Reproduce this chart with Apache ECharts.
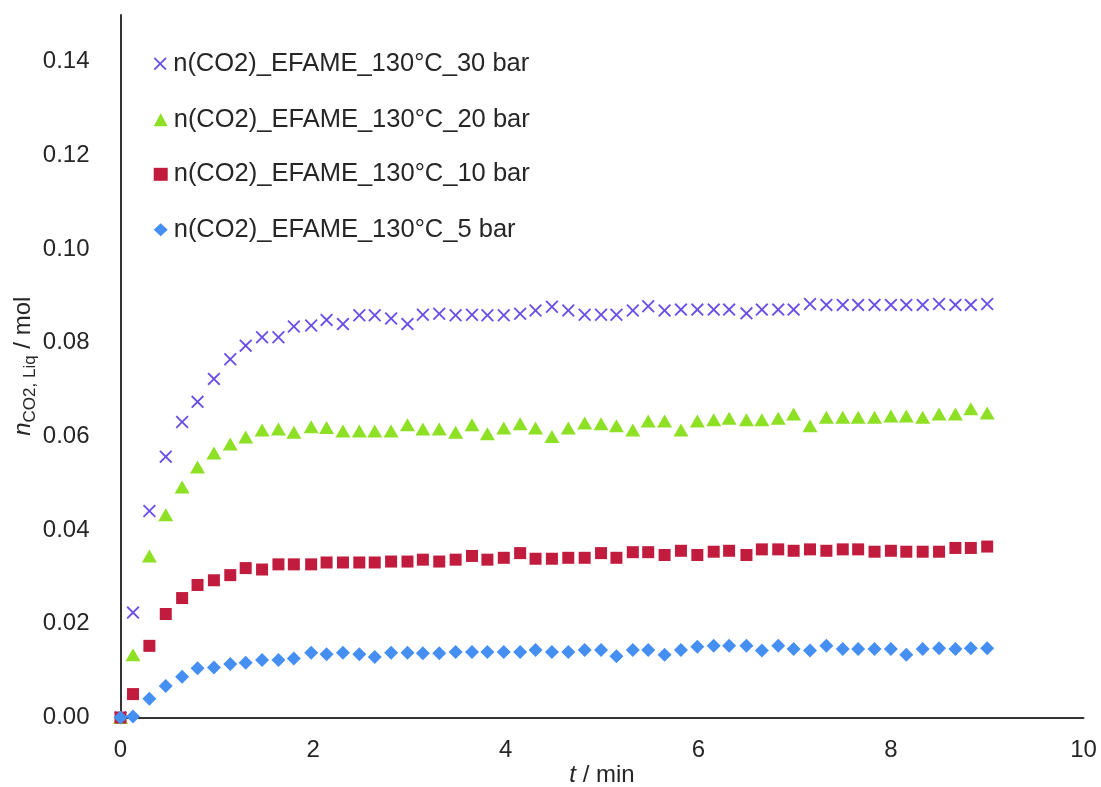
<!DOCTYPE html>
<html>
<head>
<meta charset="utf-8">
<script src="https://cdn.jsdelivr.net/npm/echarts@6/dist/echarts.min.js"></script>
<style>
html,body{margin:0;padding:0;background:#fff;}
#chart{width:1101px;height:787px;}
</style>
</head>
<body>
<div id="chart"></div>
<script>
// time in minutes
var times = [0,0.13,0.30,0.47,0.64,0.80,0.97,1.14,1.30,1.47,1.64,1.80,1.98,2.14,2.31,2.48,2.64,2.81,2.98,3.14,3.31,3.48,3.65,3.81,3.98,4.15,4.31,4.48,4.65,4.82,4.99,5.15,5.32,5.48,5.65,5.82,5.99,6.16,6.32,6.50,6.66,6.83,6.99,7.16,7.33,7.50,7.66,7.83,8.00,8.16,8.33,8.50,8.67,8.83,9.00];

var seriesNames = [
  'n(CO2)_EFAME_130°C_30 bar',
  'n(CO2)_EFAME_130°C_20 bar',
  'n(CO2)_EFAME_130°C_10 bar',
  'n(CO2)_EFAME_130°C_5 bar'
];

var bar30 = [0,0.0224,0.0441,0.0557,0.0631,0.0674,0.0723,0.0765,0.0794,0.0812,0.0812,
  0.0835,0.0837,0.0849,0.0840,0.0859,0.0859,0.0852,0.0840,0.0860,0.0862,
  0.0859,0.0860,0.0859,0.0859,0.0862,0.0869,0.0877,0.0869,0.0860,0.0860,
  0.0860,0.0869,0.0878,0.0869,0.0871,0.0871,0.0871,0.0871,0.0863,0.0871,
  0.0871,0.0871,0.0883,0.0881,0.0881,0.0881,0.0881,0.0881,0.0881,0.0881,
  0.0883,0.0881,0.0881,0.0883];

var bar20 = [0,0.0134,0.0345,0.0433,0.0492,0.0535,0.0565,0.0584,0.0599,0.0614,0.0616,
  0.0609,0.0621,0.0619,0.0612,0.0612,0.0612,0.0612,0.0625,0.0616,0.0616,
  0.0609,0.0625,0.0606,0.0618,0.0627,0.0618,0.0600,0.0618,0.0629,0.0627,
  0.0623,0.0614,0.0633,0.0633,0.0614,0.0633,0.0636,0.0639,0.0636,0.0636,
  0.0639,0.0648,0.0623,0.0641,0.0641,0.0641,0.0641,0.0644,0.0644,0.0641,
  0.0648,0.0648,0.0659,0.0650];

var bar10 = [0,0.0050,0.0153,0.0221,0.0255,0.0283,0.0293,0.0304,0.0319,0.0316,0.0327,
  0.0327,0.0327,0.0331,0.0331,0.0331,0.0331,0.0333,0.0333,0.0337,0.0333,
  0.0337,0.0345,0.0337,0.0341,0.0351,0.0339,0.0339,0.0341,0.0341,0.0351,
  0.0341,0.0353,0.0353,0.0347,0.0356,0.0347,0.0354,0.0356,0.0347,0.0359,
  0.0359,0.0356,0.0359,0.0356,0.0359,0.0359,0.0354,0.0356,0.0354,0.0354,
  0.0354,0.0362,0.0362,0.0365];

var bar5 = [0,0.0002,0.0040,0.0067,0.0087,0.0105,0.0107,0.0114,0.0117,0.0123,0.0123,
  0.0126,0.0138,0.0135,0.0138,0.0135,0.0129,0.0138,0.0138,0.0137,0.0137,
  0.0140,0.0140,0.0140,0.0140,0.0140,0.0144,0.0140,0.0140,0.0144,0.0144,
  0.0131,0.0144,0.0144,0.0134,0.0144,0.0151,0.0153,0.0153,0.0153,0.0143,
  0.0153,0.0146,0.0143,0.0153,0.0146,0.0146,0.0146,0.0146,0.0134,0.0146,
  0.0148,0.0146,0.0148,0.0148];

var colors = ['#6a4ee8', '#8ee024', '#c11b3d', '#468ff2'];

function pairs(arr){ return times.map(function(t,i){ return [t, arr[i]]; }); }

var crossPath = 'path://M2,0L10,8L18,0L20,2L12,10L20,18L18,20L10,12L2,20L0,18L8,10L0,2Z';
var FONT = '"Liberation Sans", Arial, sans-serif';
var TXT = '#262626';

var symbols = [crossPath, 'triangle', 'rect', 'diamond'];
var sizes = [13, [15,13], 12, 14];
var dataArrs = [bar30, bar20, bar10, bar5];
var legendTops = [61.7, 117.7, 172.3, 227.7];

var chart = echarts.init(document.getElementById('chart'), null, {renderer:'canvas'});

var legends = seriesNames.map(function(n, i){
  return {
    data: [n],
    left: 153.7,
    top: legendTops[i] - 11,
    padding: 0,
    orient: 'vertical',
    itemWidth: 14,
    itemHeight: 13,
    selectedMode: false,
    textStyle: {fontFamily: FONT, fontSize: 25.5, color: TXT, padding: [0,0,0,1]}
  };
});

var option = {
  animation: false,
  backgroundColor: '#ffffff',
  grid: {left: 120.5, right: 17.5, top: 15, bottom: 69.5, containLabel: false, outerBoundsMode: 'none'},
  legend: legends,
  xAxis: {
    type: 'value', min: 0, max: 10, interval: 2,
    axisLine: {show: true, onZero: false, lineStyle: {color: '#333', width: 2}},
    axisTick: {show: false},
    splitLine: {show: false},
    axisLabel: {fontFamily: FONT, fontSize: 24, color: TXT, margin: 21},
    name: '{i|t} / min',
    nameLocation: 'middle',
    nameGap: 46,
    nameMoveOverlap: false,
    nameTextStyle: {fontFamily: FONT, fontSize: 24, color: TXT,
      rich: {i: {fontFamily: FONT, fontSize: 24, fontStyle: 'italic', color: TXT}}}
  },
  yAxis: {
    type: 'value', min: 0, max: 0.15, interval: 0.02,
    axisLine: {show: true, onZero: false, lineStyle: {color: '#333', width: 2}},
    axisTick: {show: false},
    splitLine: {show: false},
    axisLabel: {fontFamily: FONT, fontSize: 24, color: TXT, margin: 31, showMaxLabel: false,
      formatter: function(v){ return v.toFixed(2); }},
    name: '{i|n}{s|CO2, Liq}{r| / mol}',
    nameLocation: 'middle',
    nameRotate: 90,
    nameGap: 82,
    nameMoveOverlap: false,
    nameTextStyle: {fontFamily: FONT, fontSize: 24, color: TXT,
      rich: {
        i: {fontFamily: FONT, fontSize: 24, fontStyle: 'italic', color: TXT, lineHeight: 30, verticalAlign: 'middle'},
        s: {fontFamily: FONT, fontSize: 17, color: TXT, lineHeight: 30, verticalAlign: 'bottom', padding: [10,0,0,0]},
        r: {fontFamily: FONT, fontSize: 24, color: TXT, lineHeight: 30, verticalAlign: 'middle'}
      }}
  },
  series: seriesNames.map(function(n, i){
    return {
      name: n,
      type: 'scatter',
      symbol: symbols[i],
      symbolSize: sizes[i],
      data: pairs(dataArrs[i]),
      itemStyle: {color: colors[i], opacity: 1},
      emphasis: {disabled: true}
    };
  })
};

chart.setOption(option);
</script>
</body>
</html>
